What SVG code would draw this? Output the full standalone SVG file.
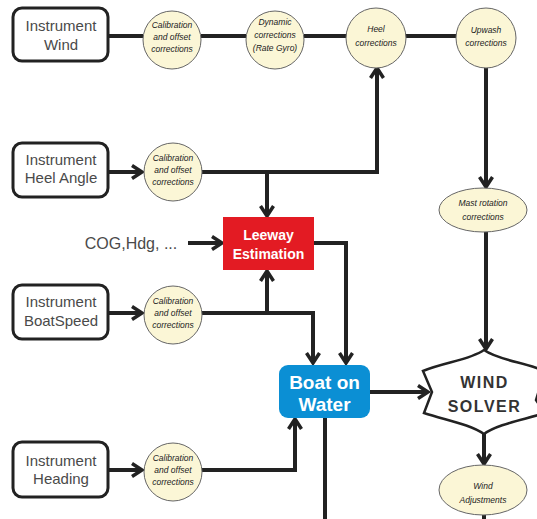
<svg xmlns="http://www.w3.org/2000/svg" width="537" height="519" viewBox="0 0 537 519">
<style>
.box{fill:#fff;stroke:#222;stroke-width:3}
.lbl{font-family:"Liberation Sans",Arial,sans-serif;font-size:15px;fill:#4a4a4a;text-anchor:middle}
.circ{fill:#fbf6d6;stroke:#666;stroke-width:1}
.sm{font-family:"Liberation Sans",Arial,sans-serif;font-size:8.5px;font-style:italic;fill:#222;text-anchor:middle}
.wl{font-family:"Liberation Sans",Arial,sans-serif;font-weight:bold;fill:#fff;text-anchor:middle}
.ln{fill:none;stroke:#222;stroke-width:4}
.ar{marker-end:url(#ah)}
.ws{font-family:"Liberation Sans",Arial,sans-serif;font-weight:bold;font-size:16px;letter-spacing:1.5px;fill:#333;text-anchor:middle}
</style>
<defs>
<marker id="ah" markerUnits="userSpaceOnUse" viewBox="0 0 16 16" markerWidth="16" markerHeight="16" refX="12" refY="8" orient="auto">
<path d="M2,1.5 L12,8 L2,14.5" fill="none" stroke="#222" stroke-width="3.5"/>
</marker>
</defs>
<g id="connectors">
<path class="ln" d="M108,36 H143"/>
<path class="ln" d="M201,36 H246"/>
<path class="ln" d="M304,36 H347"/>
<path class="ln" d="M405,36 H456"/>
<path class="ln ar" d="M486,67 V187"/>
<path class="ln ar" d="M486,232 V349"/>
<path class="ln ar" d="M108,172 H142"/>
<path class="ln ar" d="M202,172 H377 V68"/>
<path class="ln ar" d="M267,172 V216"/>
<path class="ln ar" d="M188,243 H222"/>
<path class="ln ar" d="M314,243 H346 V363"/>
<path class="ln ar" d="M108,313 H142"/>
<path class="ln ar" d="M202,313 H313 V363"/>
<path class="ln ar" d="M267,313 V271"/>
<path class="ln ar" d="M108,470 H142"/>
<path class="ln ar" d="M202,470 H295 V419"/>
<path class="ln" d="M325,418 V519"/>
<path class="ln ar" d="M370,392 H428"/>
<path class="ln ar" d="M484,434 V464"/>
<path class="ln" d="M484,515 V519"/>
</g>
<g id="instrument-wind"><rect class="box" x="13" y="8" width="95" height="53" rx="9"/><text class="lbl" x="61" y="31">Instrument</text><text class="lbl" x="61" y="50">Wind</text></g>
<g id="instrument-heel"><rect class="box" x="13" y="143" width="95" height="54" rx="9"/><text class="lbl" x="61" y="165">Instrument</text><text class="lbl" x="61" y="183">Heel Angle</text></g>
<g id="instrument-boatspeed"><rect class="box" x="13" y="285" width="95" height="54" rx="9"/><text class="lbl" x="61" y="307">Instrument</text><text class="lbl" x="61" y="326">BoatSpeed</text></g>
<g id="instrument-heading"><rect class="box" x="13" y="442" width="95" height="55" rx="9"/><text class="lbl" x="61" y="466">Instrument</text><text class="lbl" x="61" y="484">Heading</text></g>
<g id="cog"><text class="lbl" x="131" y="249" style="font-size:16px">COG,Hdg, ...</text></g>
<g id="cal-wind"><circle class="circ" cx="172" cy="40" r="29"/><text class="sm" x="172" y="28">Calibration</text><text class="sm" x="172" y="40">and offset</text><text class="sm" x="172" y="52">corrections</text></g>
<g id="dynamic"><circle class="circ" cx="275" cy="40" r="29"/><text class="sm" x="275" y="25">Dynamic</text><text class="sm" x="275" y="38">corrections</text><text class="sm" x="275" y="51">(Rate Gyro)</text></g>
<g id="heel-corr"><circle class="circ" cx="376" cy="38" r="30"/><text class="sm" x="376" y="32">Heel</text><text class="sm" x="376" y="46">corrections</text></g>
<g id="upwash"><circle class="circ" cx="486" cy="38" r="30"/><text class="sm" x="486" y="33">Upwash</text><text class="sm" x="486" y="46">corrections</text></g>
<g id="cal-heel"><circle class="circ" cx="173" cy="172" r="29"/><text class="sm" x="173" y="161">Calibration</text><text class="sm" x="173" y="173">and offset</text><text class="sm" x="173" y="185">corrections</text></g>
<g id="cal-speed"><circle class="circ" cx="173" cy="315" r="29"/><text class="sm" x="173" y="304">Calibration</text><text class="sm" x="173" y="316">and offset</text><text class="sm" x="173" y="328">corrections</text></g>
<g id="cal-heading"><circle class="circ" cx="173" cy="472" r="29"/><text class="sm" x="173" y="461">Calibration</text><text class="sm" x="173" y="473">and offset</text><text class="sm" x="173" y="485">corrections</text></g>
<g id="mast"><ellipse class="circ" cx="483" cy="210" rx="44" ry="22"/><text class="sm" x="483" y="206">Mast rotation</text><text class="sm" x="483" y="220">corrections</text></g>
<g id="wind-adj"><ellipse class="circ" cx="483" cy="490" rx="44" ry="25"/><text class="sm" x="483" y="489">Wind</text><text class="sm" x="483" y="503">Adjustments</text></g>
<g id="leeway"><rect x="223" y="217" width="91" height="53" fill="#e31b23"/><text class="wl" x="268.5" y="240" style="font-size:14px">Leeway</text><text class="wl" x="268.5" y="259" style="font-size:14px">Estimation</text></g>
<g id="boat"><rect x="279" y="365" width="91" height="53" rx="9" fill="#0b8fd4"/><text class="wl" x="324.5" y="389" style="font-size:19px">Boat on</text><text class="wl" x="324.5" y="411" style="font-size:19px">Water</text></g>
<g id="solver"><path d="M484,350 C470,360 445,362 423,371 L432,392 L424,413 C445,420 470,424 484,434 C498,424 523,420 545,413 L536,400 L545,371 C523,362 498,360 484,350 Z" fill="#fff" stroke="#222" stroke-width="2.5"/><text class="ws" x="484.5" y="388">WIND</text><text class="ws" x="484.5" y="412">SOLVER</text></g>
</svg>
